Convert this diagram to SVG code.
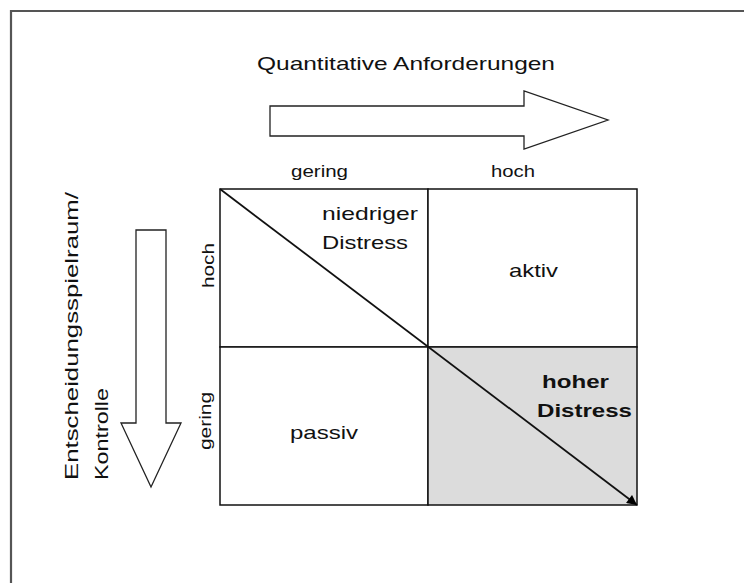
<svg xmlns="http://www.w3.org/2000/svg" width="744" height="583" viewBox="0 0 744 583">
<style>
text{font-family:"Liberation Sans",Arial,sans-serif;fill:#111;}
.lbl{font-size:19px;}
.ax{font-size:17px;}
.b{font-size:18px;font-weight:bold;}
.cell{fill:#fff;stroke:#111;stroke-width:1.5;}
.arr{fill:#fff;stroke:#222;stroke-width:1.3;}
</style>
<defs>
<marker id="ah" viewBox="0 0 10 10" refX="10" refY="5" markerWidth="11" markerHeight="10" orient="auto" markerUnits="userSpaceOnUse">
<path d="M0,0 L10,5 L0,10 z" fill="#000"/>
</marker>
</defs>
<rect width="744" height="583" fill="#fff"/>
<path d="M11,583 V11 H744" fill="none" stroke="#555" stroke-width="2.2"/>

<g id="title">
<text class="lbl" x="257" y="70" textLength="298" lengthAdjust="spacingAndGlyphs">Quantitative Anforderungen</text>
</g>
<g id="arrow-right">
<path class="arr" d="M270,106 H524 V91 L608,120 L524,149 V136 H270 Z"/>
</g>
<g id="arrow-down">
<path class="arr" d="M136,230 H166 V423 H181 L151,487 L121,423 H136 Z"/>
</g>
<g id="ylabel">
<text class="lbl" transform="translate(78,480) rotate(-90)" textLength="288" lengthAdjust="spacingAndGlyphs">Entscheidungsspielraum/</text>
<text class="lbl" transform="translate(108,480) rotate(-90)" textLength="92" lengthAdjust="spacingAndGlyphs">Kontrolle</text>
</g>
<g id="axis-labels">
<text class="ax" x="291" y="177" textLength="57" lengthAdjust="spacingAndGlyphs">gering</text>
<text class="ax" x="491" y="177" textLength="44" lengthAdjust="spacingAndGlyphs">hoch</text>
<text class="ax" transform="translate(214,288) rotate(-90)" textLength="45" lengthAdjust="spacingAndGlyphs">hoch</text>
<text class="ax" transform="translate(211,450) rotate(-90)" textLength="58" lengthAdjust="spacingAndGlyphs">gering</text>
</g>
<g id="cell-low-distress">
<rect class="cell" x="220" y="189" width="208" height="158"/>
<text class="lbl" x="322" y="220" textLength="96" lengthAdjust="spacingAndGlyphs">niedriger</text>
<text class="lbl" x="322" y="249" textLength="86" lengthAdjust="spacingAndGlyphs">Distress</text>
</g>
<g id="cell-aktiv">
<rect class="cell" x="428" y="189" width="209" height="158"/>
<text class="lbl" x="509" y="277" textLength="49" lengthAdjust="spacingAndGlyphs">aktiv</text>
</g>
<g id="cell-passiv">
<rect class="cell" x="220" y="347" width="208" height="158"/>
<text class="lbl" x="290" y="439" textLength="68" lengthAdjust="spacingAndGlyphs">passiv</text>
</g>
<g id="cell-high-distress">
<rect class="cell" x="428" y="347" width="209" height="158" style="fill:#dcdcdc"/>
<text class="b" x="542" y="388" textLength="67" lengthAdjust="spacingAndGlyphs">hoher</text>
<text class="b" x="537" y="417" textLength="95" lengthAdjust="spacingAndGlyphs">Distress</text>
</g>
<g id="connectors">
<line x1="220" y1="189" x2="637" y2="505" stroke="#111" stroke-width="1.8" marker-end="url(#ah)"/>
</g>
</svg>
